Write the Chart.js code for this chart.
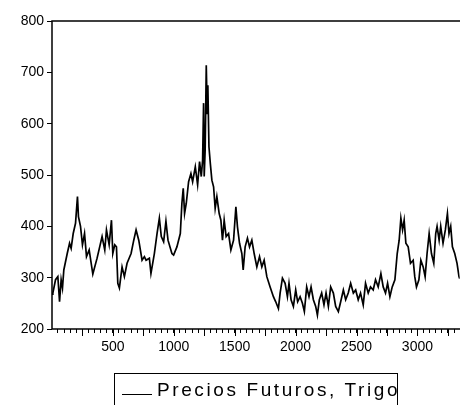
<!DOCTYPE html>
<html>
<head>
<meta charset="utf-8">
<script src="https://cdn.jsdelivr.net/npm/chart.js@4"></script>
<style>
body { margin:0; background:#fff; }
#wrap { position:absolute; left:0; top:0; width:460px; height:405px; }
#leg { position:absolute; left:114px; top:373px; width:282px; height:40px; border:1px solid #000; background:#fff;
  font-family:"Liberation Sans", Arial, sans-serif; font-size:19px; letter-spacing:2.6px; white-space:nowrap; }
#leg span.l { position:absolute; left:7px; top:20px; width:30px; border-top:1px solid #000; }
#leg span.t { position:absolute; left:42px; top:5px; }
</style>
</head>
<body>
<div id="wrap"><canvas id="c" width="460" height="405"></canvas></div>
<div id="leg"><span class="l"></span><span class="t">Precios Futuros, Trigo</span></div>
<script>
let idx = [1,8,30,49,63,76,87,98,126,145,158,175,194,210,218,235,251,268,284,306,336,371,412,434,448,470,489,500,516,530,541,554,576,595,617,650,672,691,713,740,759,773,800,813,841,863,882,898,917,936,953,985,999,1026,1054,1067,1078,1089,1103,1122,1141,1155,1177,1196,1212,1226,1237,1245,1250,1258,1267,1275,1280,1289,1300,1313,1327,1340,1354,1373,1387,1400,1414,1430,1450,1469,1491,1510,1523,1540,1559,1570,1586,1605,1622,1641,1660,1682,1704,1723,1742,1764,1791,1818,1837,1859,1873,1892,1914,1933,1946,1963,1982,2001,2017,2037,2056,2072,2091,2110,2127,2146,2165,2179,2195,2214,2233,2250,2269,2288,2310,2329,2351,2370,2392,2411,2432,2452,2474,2493,2514,2533,2555,2574,2596,2615,2637,2656,2678,2700,2719,2738,2755,2774,2793,2815,2834,2850,2864,2878,2891,2905,2924,2943,2965,2978,2992,3012,3028,3047,3063,3079,3096,3115,3134,3150,3161,3178,3191,3210,3229,3246,3259,3273,3287,3306,3325,3341,3347];
let price = [268,270,296,302,253,296,280,315,347,367,357,386,406,458,419,400,364,386,341,354,307,338,380,354,393,364,412,347,364,360,289,280,321,302,328,347,373,393,373,334,341,334,338,308,347,386,416,380,370,410,373,347,344,360,386,445,474,425,445,487,503,487,516,481,526,497,529,640,497,549,714,620,675,555,523,490,477,435,458,425,412,373,412,380,386,354,373,438,399,367,347,315,360,377,360,373,347,321,341,321,334,302,282,263,253,240,270,299,289,263,289,257,244,276,253,263,250,234,282,263,282,257,244,227,257,270,247,270,244,282,270,244,234,253,276,257,270,289,270,276,257,270,247,289,270,282,276,296,282,308,282,270,289,263,282,296,347,373,416,393,412,367,360,328,334,302,282,296,334,321,302,347,386,347,328,386,400,373,400,367,393,425,386,400,360,347,328,302,298];
let yTicks = [200,300,400,500,600,700,800];
let xLabels = [500,1000,1500,2000,2500,3000];

const pts = idx.map((v,i) => ({x:v, y:price[i]}));
const font = {family:"'Liberation Sans', Arial, sans-serif", size:14};

const frame = {
  id:'frame',
  afterDraw(chart) {
    const a = chart.chartArea, ctx = chart.ctx, xs = chart.scales.x;
    ctx.save();
    ctx.strokeStyle = '#000'; ctx.lineWidth = 1.5;
    ctx.beginPath();
    ctx.moveTo(a.left, a.bottom); ctx.lineTo(a.left, a.top); ctx.lineTo(460, a.top);
    ctx.moveTo(a.left, a.bottom); ctx.lineTo(460, a.bottom);
    ctx.stroke();
    ctx.lineWidth = 1;
    ctx.beginPath();
    for (let v = 250; v < 3400; v += 250) {
      const px = Math.round(xs.getPixelForValue(v)) + 0.5;
      ctx.moveTo(px, a.bottom); ctx.lineTo(px, a.bottom + 7);
    }
    ctx.stroke();
    ctx.restore();
  }
};

new Chart(document.getElementById('c'), {
  type:'line',
  data:{ datasets:[{ data:pts, borderColor:'#000', borderWidth:1.7, pointRadius:0, tension:0, fill:false }] },
  options:{
    responsive:false, animation:false,
    layout:{ padding:{ top:21, right:0, left:0, bottom:0 } },
    plugins:{ legend:{display:false}, tooltip:{enabled:false} },
    scales:{
      x:{
        type:'linear', min:1, max:3347,
        afterBuildTicks(s){ const t=[]; for(let v=50; v<3347; v+=50) t.push({value:v}); s.ticks=t; },
        afterFit(s){ s.height = 76; },
        grid:{ drawOnChartArea:false, tickLength:4, color:'#000', lineWidth:1 },
        border:{ display:false },
        ticks:{ autoSkip:false, maxRotation:0, padding:6, color:'#000', font:font,
          callback(v){ return xLabels.includes(v) ? String(v) : ''; } }
      },
      y:{
        min:200, max:800,
        afterBuildTicks(s){ s.ticks = yTicks.map(v => ({value:v})); },
        afterFit(s){ s.width = 52; },
        grid:{ drawOnChartArea:false, tickLength:5, color:'#000' },
        border:{ display:false },
        ticks:{ padding:3, color:'#000', font:font }
      }
    }
  },
  plugins:[frame]
});
</script>
</body>
</html>
